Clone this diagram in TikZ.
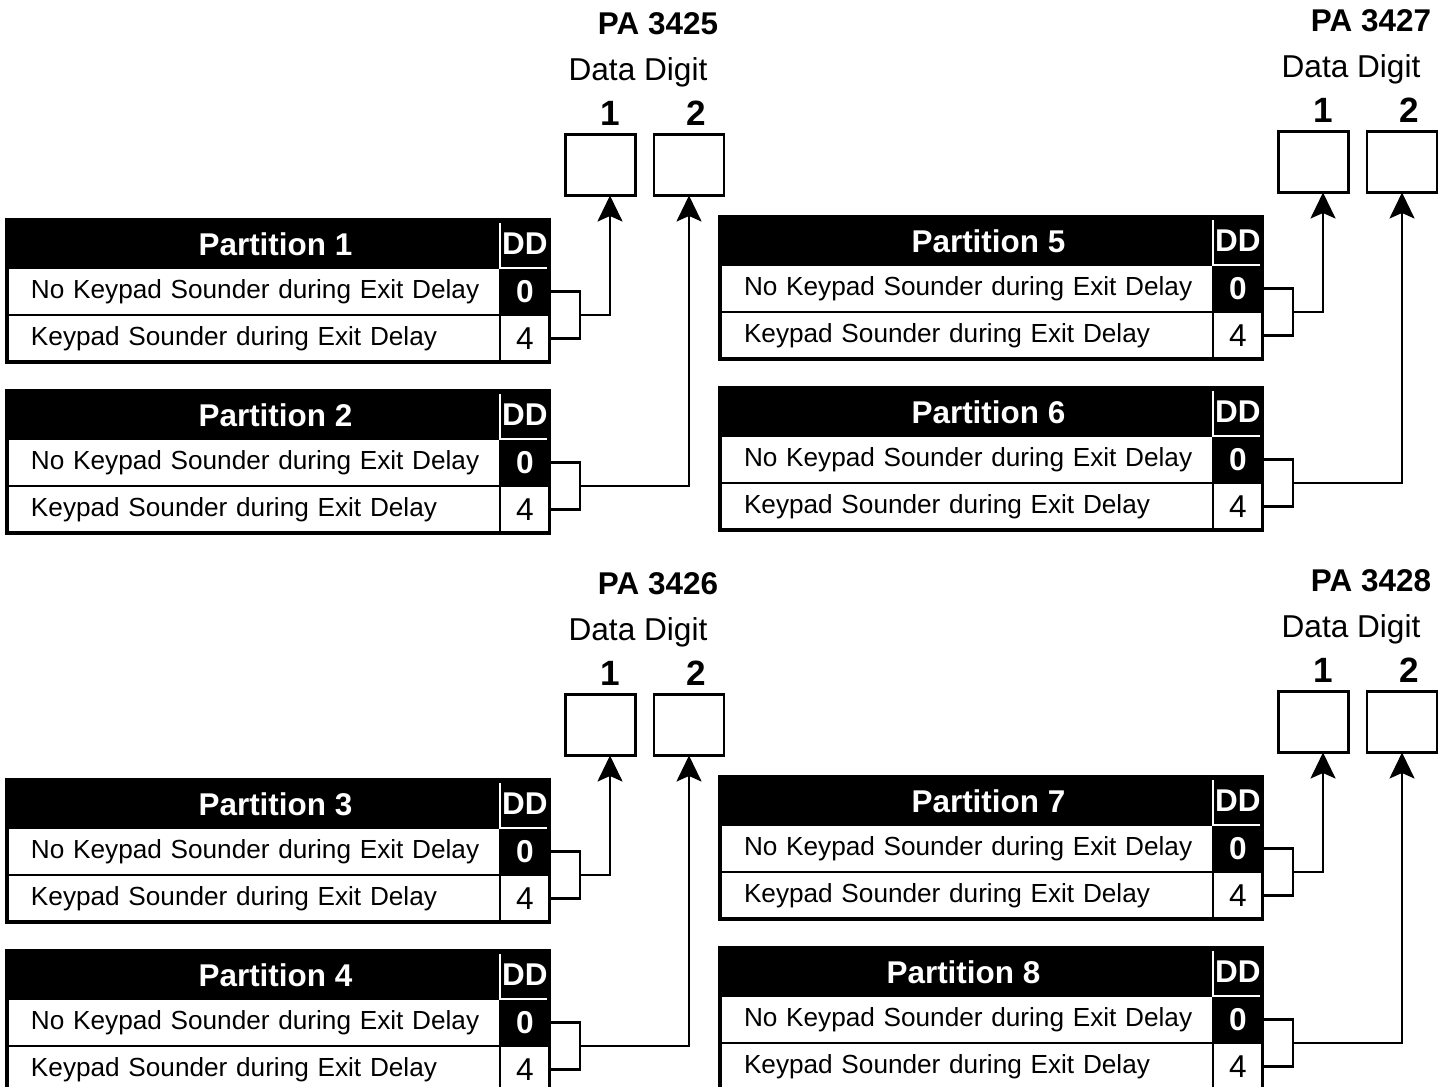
\documentclass[tikz,border=0pt]{standalone}
\usepackage{fontspec}
\setmainfont{Liberation Sans}
\usetikzlibrary{positioning,calc,arrows.meta}

\begin{document}
\begin{tikzpicture}[
    x=0.02cm, y=-0.02cm,
    every node/.append style={outer sep=0pt},
    hdr/.style={rectangle, draw=black, fill=black, text=white, minimum width=9.86cm,
                minimum height=0.96cm, inner sep=0pt, font=\fontsize{17.9}{20}\selectfont\bfseries},
    ddhdr/.style={hdr, minimum width=1cm},
    opt/.style={rectangle, draw=black, line width=1.4pt, fill=white, text width=9.86cm,
                inner sep=0pt, minimum height=0.94cm, align=left,
                font=\fontsize{14.9}{17}\selectfont},
    valon/.style={rectangle, draw=black, line width=1.4pt, fill=black, text=white, minimum width=1cm,
                minimum height=0.94cm, inner sep=0pt, font=\fontsize{18}{20}\selectfont\bfseries},
    valoff/.style={valon, fill=white, text=black, font=\fontsize{18}{20}\selectfont},
    digitbox/.style={rectangle, draw=black, line width=1.6pt, minimum width=1.4cm,
                minimum height=1.22cm, inner sep=0pt},
    patitle/.style={font=\fontsize{17.9}{20}\selectfont\bfseries},
    ddlabel/.style={font=\fontsize{18}{20}\selectfont},
    digitlabel/.style={font=\fontsize{20}{22}\selectfont\bfseries},
    frame/.style={draw=black, line width=1.8pt},
    sep/.style={draw=white, line width=1pt},
    link/.style={draw=black, line width=1.4pt},
    arrow/.style={link, -{Stealth[length=0.52cm, width=0.5cm, inset=0.11cm]}}
]
    \useasboundingbox (0,0) rectangle (1447,1087);
    \clip (0,0) rectangle (1447,1087);

    \foreach \qx/\qy/\code/\pone/\ptwo/\hx in {0/0/3425/1/2/0.88, 0/560/3426/3/4/0.88,
                                             713/-3/3427/5/6/0.88, 713/557/3428/7/8/-0.12} {
    \begin{scope}[shift={(\qx,\qy)}]
        % data digit boxes
        \node[patitle] (pa\code) at (658,24) {PA \code};
        \node[ddlabel] (dl\code) at (638,72) {Data Digit};
        \node[digitlabel] (n\code-1) at (610,113) {1};
        \node[digitlabel] (n\code-2) at (696,113) {2};
        \node[digitbox] (d\code-1) at (600.5,165) {};
        \node[digitbox] (d\code-2) at (689,165) {};

        % partition tables
        \foreach \pn/\py/\hs in {\pone/220/0.88, \ptwo/391/\hx} {
            \node[hdr, anchor=north west] (p\pn-h) at (7,\py) {\hspace*{\hs cm}Partition \pn};
            \node[ddhdr, right=0pt of p\pn-h] (p\pn-dd) {DD};
            \node[opt, below=0pt of p\pn-h] (p\pn-a) {\hspace*{0.48cm}No Keypad Sounder during Exit Delay};
            \node[valon, right=0pt of p\pn-a] (p\pn-a0) {0};
            \node[opt, below=0pt of p\pn-a] (p\pn-b) {\hspace*{0.48cm}Keypad Sounder during Exit Delay};
            \node[valoff, right=0pt of p\pn-b] (p\pn-b4) {4};
            \draw[sep] ([yshift=-1.7pt]p\pn-dd.north west) -- (p\pn-dd.south west)
                -- ([xshift=-1.7pt]p\pn-dd.south east);
            \draw[frame] (p\pn-h.north west) rectangle (p\pn-b4.south east);

            \coordinate (p\pn-m) at ($(p\pn-a0.east)!0.5!(p\pn-b4.east) + (30,0)$);
            \draw[link] (p\pn-a0.east) -| (p\pn-m) |- (p\pn-b4.east);
        }

        \draw[arrow] (p\pone-m) -| (d\code-1.south -| n\code-1);
        \draw[arrow] (p\ptwo-m) -| (d\code-2.south);
    \end{scope}
    }
\end{tikzpicture}
\end{document}
